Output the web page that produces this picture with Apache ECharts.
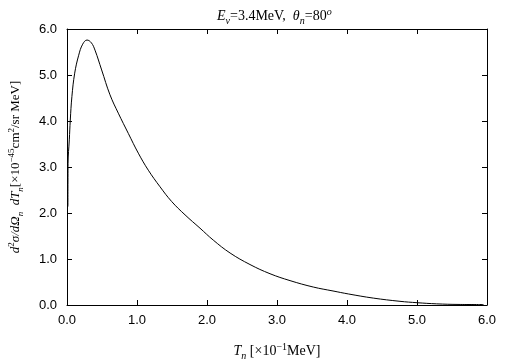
<!doctype html>
<html lang="en">
<head>
    <meta charset="UTF-8">
    <title>Neutron spectrum</title>
    <style>
        * {
            margin: 0;
            padding: 0;
        }

        body {
            background: #ffffff;
        }

        #chart {
            width: 505px;
            height: 361px;
        }
    </style>
</head>
<body>
<div id="chart"></div>
<script src="https://cdn.jsdelivr.net/npm/echarts@6/dist/echarts.min.js"></script>
<script type="application/javascript">
    // T_n in units of 0.1 MeV
    const tn = [0.013, 0.015, 0.033, 0.047, 0.07, 0.11, 0.167, 0.224, 0.286, 0.348, 0.40, 0.495,
        0.614, 0.733, 0.876, 1.019, 1.162, 1.329, 1.495, 1.686, 1.9, 2.09, 2.33, 2.614, 2.9,
        3.186, 3.519, 3.80, 4.02, 4.376, 4.757, 5.0, 5.28, 5.6, 5.95];
    // cross section, x10^-45 cm2/sr MeV
    const xsec = [2.14, 3.08, 3.59, 4.02, 4.53, 5.04, 5.43, 5.67, 5.76, 5.70, 5.54, 5.11,
        4.57, 4.17, 3.73, 3.30, 2.93, 2.57, 2.25, 1.96, 1.67, 1.41, 1.13, 0.88, 0.68,
        0.53, 0.39, 0.305, 0.24, 0.15, 0.08, 0.05, 0.025, 0.012, 0.01];
    const axisTicks = [0, 1, 2, 3, 4, 5, 6];

    const serif = 'Liberation Serif';
    const sans = 'Liberation Sans';

    const makeRich = function (size) {
        const small = Math.round(size * 0.7);
        const lh = size + 5;
        return {
            r: {fontFamily: serif, fontSize: size, fontWeight: 'normal', color: '#000'},
            i: {fontFamily: serif, fontSize: size, fontWeight: 'normal', fontStyle: 'italic', color: '#000'},
            sub: {fontFamily: serif, fontSize: small, fontWeight: 'normal', fontStyle: 'italic', color: '#000', verticalAlign: 'bottom', lineHeight: lh},
            sup: {fontFamily: serif, fontSize: small, fontWeight: 'normal', color: '#000', verticalAlign: 'top', lineHeight: lh},
            supi: {fontFamily: serif, fontSize: small, fontWeight: 'normal', fontStyle: 'italic', color: '#000', verticalAlign: 'top', lineHeight: lh}
        };
    };

    const data = tn.map(function (t, k) {
        return [t, xsec[k]];
    });

    // plain axis used only to close the frame on top / right
    const frameAxis = function (pos) {
        return {
            type: 'value',
            position: pos,
            min: axisTicks[0],
            max: axisTicks[axisTicks.length - 1],
            interval: 1,
            axisLine: {show: true, onZero: false, lineStyle: {color: '#000', width: 1}},
            axisTick: {show: true, inside: true, length: 5, lineStyle: {color: '#000'}},
            axisLabel: {show: false},
            splitLine: {show: false}
        };
    };

    const tickLabel = function (v) {
        return v.toFixed(1);
    };

    const chart = echarts.init(document.getElementById('chart'));
    const option = {
        backgroundColor: '#fff',
        animation: false,
        title: {
            text: '{i|E}{sub|ν}{r|=3.4MeV,  }{i|θ}{sub|n}{r|=80}{supi|o}',
            left: 212,
            top: 2,
            textStyle: {fontWeight: 'normal', rich: makeRich(14)}
        },
        grid: {left: 67, right: 18, top: 29, bottom: 56, outerBoundsMode: 'none'},
        xAxis: [
            {
                type: 'value',
                min: axisTicks[0],
                max: axisTicks[axisTicks.length - 1],
                interval: 1,
                name: '{i|T}{sub|n}{r| [×10}{sup|−1}{r|MeV]}',
                nameLocation: 'middle',
                nameGap: 37,
                nameTextStyle: {rich: makeRich(14)},
                axisLine: {show: true, onZero: false, lineStyle: {color: '#000', width: 1}},
                axisTick: {show: true, inside: true, length: 5, lineStyle: {color: '#000'}},
                axisLabel: {margin: 9, fontFamily: sans, fontSize: 13, color: '#000', formatter: tickLabel},
                splitLine: {show: false}
            },
            frameAxis('top')
        ],
        yAxis: [
            {
                type: 'value',
                min: axisTicks[0],
                max: axisTicks[axisTicks.length - 1],
                interval: 1,
                name: '{i|d}{sup|2}{i|σ/dΩ}{sub|n}{i|  dT}{sub|n}{r|[×10}{sup|−45}{r|cm}{sup|2}{r|/sr MeV]}',
                nameLocation: 'middle',
                nameRotate: 90,
                nameGap: 42,
                nameTextStyle: {rich: makeRich(13)},
                axisLine: {show: true, onZero: false, lineStyle: {color: '#000', width: 1}},
                axisTick: {show: true, inside: true, length: 5, lineStyle: {color: '#000'}},
                axisLabel: {margin: 10, fontFamily: sans, fontSize: 13, color: '#000', formatter: tickLabel},
                splitLine: {show: false}
            },
            frameAxis('right')
        ],
        series: [
            {
                type: 'line',
                data: data,
                showSymbol: false,
                smooth: 0.4,
                lineStyle: {color: '#000', width: 1}
            }
        ]
    };
    chart.setOption(option);
</script>
</body>
</html>
